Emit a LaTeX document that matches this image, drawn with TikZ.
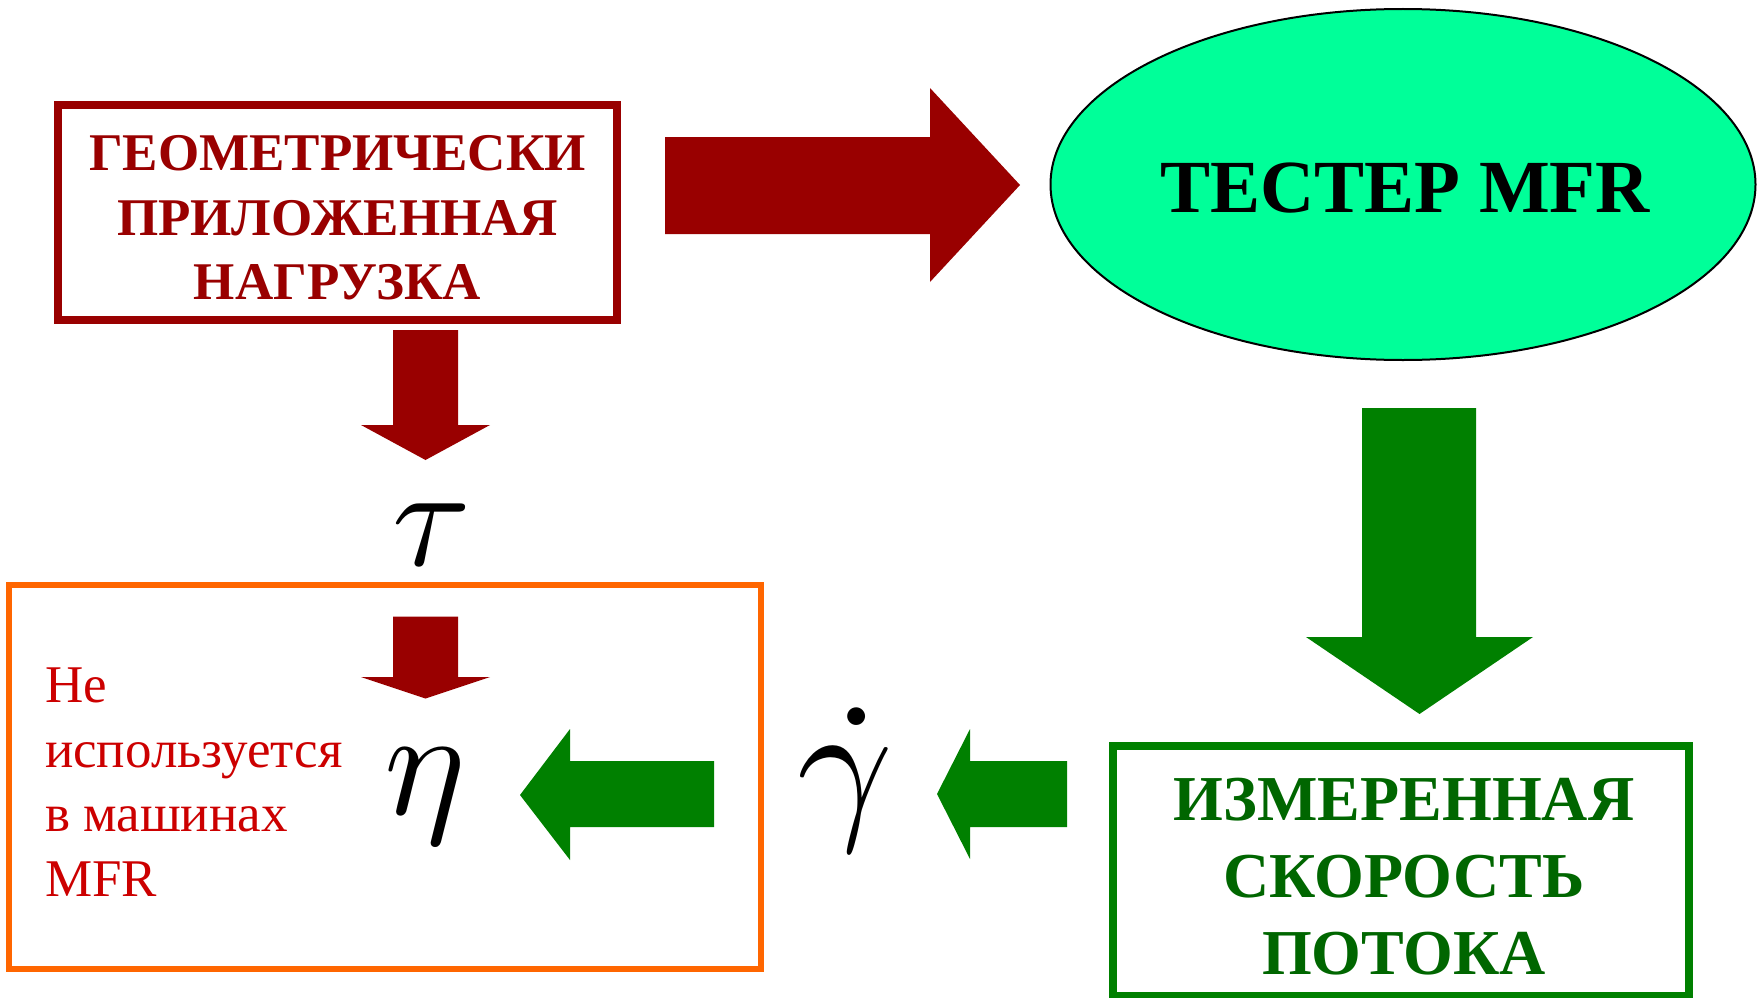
\documentclass[tikz,border=0pt]{standalone}
\usepackage{fontspec}
\setmainfont{Liberation Serif}
\usetikzlibrary{shapes.geometric}
\definecolor{darkred}{HTML}{990000}
\definecolor{arrowgreen}{HTML}{008000}
\definecolor{textgreen}{HTML}{006600}
\definecolor{orangeline}{HTML}{FF6600}
\definecolor{mint}{HTML}{00FF99}
\definecolor{notered}{HTML}{CC0000}
\tikzset{
  redbox/.style={draw=darkred, line width=8pt, inner sep=0pt},
  greenbox/.style={draw=arrowgreen, line width=8pt, inner sep=0pt},
  orangebox/.style={draw=orangeline, line width=6pt, inner sep=0pt},
  oval/.style={ellipse, draw=black, line width=2pt, fill=mint, inner sep=0pt},
  redarrow/.style={fill=darkred},
  greenarrow/.style={fill=arrowgreen},
  plain/.style={inner sep=0pt, outer sep=0pt},
  greek/.style={inner sep=0pt, outer sep=0pt, font=\normalsize}
}
\begin{document}
\begin{tikzpicture}[x=1pt,y=-1pt]
\useasboundingbox (0,0) rectangle (1759,998);
% boxes
\node[redbox, minimum width=559pt, minimum height=215pt] (geo) at (337.5,212.5) {};
\node[plain, align=center, text=darkred, font=\fontsize{53}{64.5}\selectfont\bfseries] (geot) at (337.5,217.75)
  {ГЕОМЕТРИЧЕСКИ\\ПРИЛОЖЕННАЯ\\НАГРУЗКА};
\node[oval, minimum width=705pt, minimum height=351pt] (tester) at (1403,184.5) {};
\node[plain, font=\fontsize{75}{90}\selectfont\bfseries] (testert) at (1405,188) {ТЕСТЕР MFR};
\node[orangebox, minimum width=752pt, minimum height=384pt] (visc) at (385,777) {};
\node[plain, anchor=north west, align=left, text=notered, font=\fontsize{53}{64.5}\selectfont] (note) at (45,668)
  {Не\\используется\\в машинах\\MFR};
\node[greenbox, minimum width=576pt, minimum height=250pt] (rate) at (1401,871) {};
\node[plain, align=center, text=textgreen, font=\fontsize{64}{77}\selectfont\bfseries] (ratet) at (1404,877)
  {ИЗМЕРЕННАЯ\\СКОРОСТЬ\\ПОТОКА};
% symbols
\node[greek, scale=14.3] (tau) at (432,535) {$\tau$};
\node[greek, scale=15.3] (eta) at (425,796) {$\eta$};
\node[greek, scale=16.7] (gam) at (857,780) {$\dot{\gamma\mkern2.5mu}$};
% arrows
\fill[redarrow] (665,137) -- (930,137) -- (930,88) -- (1020,185) -- (930,282) -- (930,234) -- (665,234) -- cycle;
\fill[redarrow] (393,330) -- (458,330) -- (458,425) -- (490,425) -- (425.5,460) -- (361,425) -- (393,425) -- cycle;
\fill[redarrow] (393,616.5) -- (458,616.5) -- (458,677) -- (490,677) -- (425.5,698.5) -- (361,677) -- (393,677) -- cycle;
\fill[greenarrow] (1362,408) -- (1476,408) -- (1476,637) -- (1533,637) -- (1419.5,714) -- (1306,637) -- (1362,637) -- cycle;
\fill[greenarrow] (1067,761) -- (1067,827) -- (970,827) -- (970,859) -- (937,794) -- (970,729) -- (970,761) -- cycle;
\fill[greenarrow] (714,761) -- (714,827) -- (570,827) -- (570,860) -- (520,795) -- (570,729) -- (570,761) -- cycle;
\end{tikzpicture}
\end{document}
